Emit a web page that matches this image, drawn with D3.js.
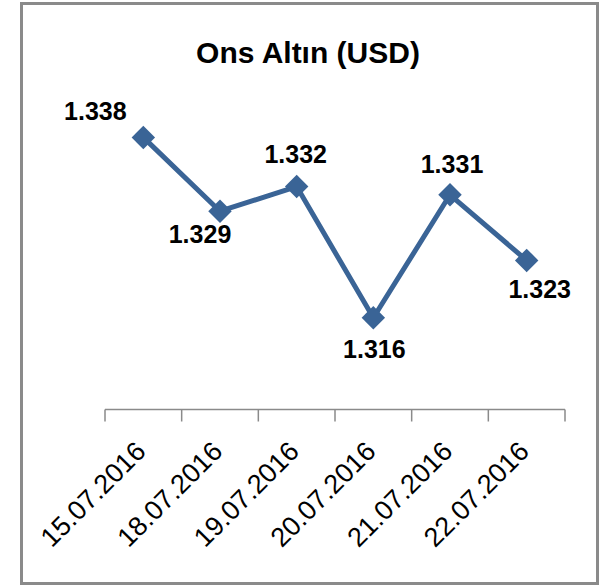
<!DOCTYPE html>
<html>
<head>
<meta charset="utf-8">
<script src="https://cdn.jsdelivr.net/npm/d3@7"></script>
<style>
  body { margin: 0; background: #fff; }
  text { font-family: 'Liberation Sans', Arial, sans-serif; fill: #000; }
</style>
</head>
<body>
<div id="graf"></div>
<script>
const dates = ['15.07.2016', '18.07.2016', '19.07.2016', '20.07.2016', '21.07.2016', '22.07.2016']
const prices = [1.338, 1.329, 1.332, 1.316, 1.331, 1.323]
const yDomain = [1.305, 1.345]

// where each value label sits relative to its marker (hand-placed in the original)
const labelOffset = [[-48, -17], [-20, 32], [-1, -24], [1, 40], [2, -22], [13, 38]]

const anchoTotal = 616
const altoTotal = 586

const svg = d3.select('#graf')
  .append('svg')
  .attr('width', anchoTotal)
  .attr('height', altoTotal)

// chart frame
svg.append('rect')
  .attr('x', 21.5)
  .attr('y', 3.5)
  .attr('width', 576)
  .attr('height', 580)
  .attr('fill', '#fff')
  .attr('stroke', '#8a8a8a')
  .attr('stroke-width', 3)

svg.append('text')
  .attr('x', 308)
  .attr('y', 63)
  .attr('text-anchor', 'middle')
  .attr('font-size', 30)
  .attr('font-weight', 'bold')
  .text('Ons Altın (USD)')

const x = d3.scaleBand()
  .domain(dates)
  .range([105, 565])

const y = d3.scaleLinear()
  .domain(yDomain)
  .range([408, 80])

const cx = d => x(d) + x.bandwidth() / 2

// category axis: line plus ticks between categories
const eje = svg.append('g')
const bordes = dates.map(d => x(d)).concat([x.range()[1]])
const ejeY = 409.5

eje.append('line')
  .attr('x1', x.range()[0])
  .attr('x2', x.range()[1])
  .attr('y1', ejeY)
  .attr('y2', ejeY)
  .attr('stroke', '#8a8a8a')
  .attr('stroke-width', 1.5)

eje.selectAll('.tick')
  .data(bordes)
  .enter()
  .append('line')
  .attr('x1', d => d)
  .attr('x2', d => d)
  .attr('y1', ejeY)
  .attr('y2', ejeY + 12)
  .attr('stroke', '#8a8a8a')
  .attr('stroke-width', 1.5)

eje.selectAll('.lbl')
  .data(dates)
  .enter()
  .append('text')
  .attr('text-anchor', 'end')
  .attr('font-size', 27)
  .attr('transform', d => `translate(${cx(d) + 4}, 453) rotate(-45)`)
  .text(d => d)

const datos = dates.map((d, i) => ({ fecha: d, valor: prices[i], off: labelOffset[i] }))

const linea = d3.line()
  .x(d => cx(d.fecha))
  .y(d => y(d.valor))

svg.append('path')
  .datum(datos)
  .attr('d', linea)
  .attr('fill', 'none')
  .attr('stroke', '#3a6496')
  .attr('stroke-width', 5)
  .attr('stroke-linejoin', 'round')

svg.selectAll('.marker')
  .data(datos)
  .enter()
  .append('path')
  .attr('d', d3.symbol(d3.symbolSquare, 275))
  .attr('transform', d => `translate(${cx(d.fecha)}, ${y(d.valor)}) rotate(45)`)
  .attr('fill', '#3a6496')

svg.selectAll('.valor')
  .data(datos)
  .enter()
  .append('text')
  .attr('x', d => cx(d.fecha) + d.off[0])
  .attr('y', d => y(d.valor) + d.off[1])
  .attr('text-anchor', 'middle')
  .attr('font-size', 25)
  .attr('font-weight', 'bold')
  .text(d => d3.format('.3f')(d.valor))
</script>
</body>
</html>
